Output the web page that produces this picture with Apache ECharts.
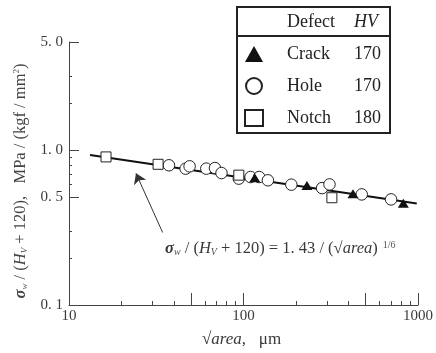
<!DOCTYPE html>
<html><head><meta charset="utf-8">
<script src="https://cdn.jsdelivr.net/npm/echarts@6/dist/echarts.min.js"></script>
<style>html,body{margin:0;padding:0;background:#fff}#c{width:436px;height:353px}</style>
</head><body><div id="c"></div>
<script>
// ---- data ----
const crackX = [116, 231, 424, 824];
const crackY = [0.665, 0.592, 0.523, 0.455];
const holeX = [37.4, 46.6, 49.1, 61.2, 68.6, 74.8, 94.0, 109.7, 123, 138, 188, 282, 311, 476, 701];
const holeY = [0.799, 0.760, 0.787, 0.760, 0.767, 0.712, 0.655, 0.671, 0.671, 0.639, 0.599, 0.569, 0.601, 0.518, 0.481];
const notchX = [16.3, 32.4, 94, 321];
const notchY = [0.905, 0.811, 0.69, 0.493];
const fitX = [13.2, 984];
const fitY = [0.93, 0.453];
const arrowX = [34.4, 24.2];
const arrowY = [0.294, 0.709];
const legendNames = ['Crack', 'Hole', 'Notch'];
const legendHV = ['170', '170', '180'];
const xMajorTicks = [10, 50, 100, 500, 1000];
const xMinorTicks = [20, 30, 40, 60, 70, 80, 90, 200, 300, 400, 600, 700, 800, 900];
const xTickLabels = [10, 100, 1000];
const yMajorTicks = [0.1, 0.5, 1, 5];
const yMinorTicks = [0.2, 0.3, 0.6, 0.7, 0.8, 0.9, 2, 3];
const yTickLabels = [0.1, 0.5, 1, 5];
const yTickText = ['0. 1', '0. 5', '1. 0', '5. 0'];

const pairs = (xs, ys) => xs.map((x, i) => [x, ys[i]]);
const SERIF = '"Liberation Serif","DejaVu Serif",serif';
const INK = '#222';
const TXT = '#3a3a3a';

const chart = echarts.init(document.getElementById('c'), null, {renderer: 'canvas'});
const hvMap = {};
legendNames.forEach((n, i) => hvMap[n] = legendHV[i]);

const yLabelFmt = v => {
  const k = yTickLabels.findIndex(t => Math.abs(t - v) / t < 1e-6);
  return k >= 0 ? yTickText[k] : '';
};
const xLabelFmt = v => String(Math.round(v));

const option = {
  animation: false,
  backgroundColor: '#fff',
  grid: {left: 69, right: 16, top: 42, bottom: 48},
  xAxis: [
    {type: 'log', min: 10, max: 1000, position: 'bottom',
     axisLine: {show: true, lineStyle: {color: '#444', width: 1}},
     axisTick: {show: true, inside: false, length: -12, customValues: xMajorTicks, lineStyle: {color: '#444'}},
     axisLabel: {show: true, customValues: xTickLabels, margin: 4, color: TXT, fontFamily: SERIF, fontSize: 15, formatter: xLabelFmt},
     splitLine: {show: false}, minorTick: {show: false}},
    {type: 'log', min: 10, max: 1000, position: 'bottom', offset: 0,
     axisLine: {show: false},
     axisTick: {show: true, inside: false, length: -4, customValues: xMinorTicks, lineStyle: {color: '#444'}},
     axisLabel: {show: false}, splitLine: {show: false}}
  ],
  yAxis: [
    {type: 'log', min: 0.1, max: 5, position: 'left',
     axisLine: {show: true, lineStyle: {color: '#444', width: 1}},
     axisTick: {show: true, inside: false, length: -10, customValues: yMajorTicks, lineStyle: {color: '#444'}},
     axisLabel: {show: true, customValues: yTickLabels, margin: 6, color: TXT, fontFamily: SERIF, fontSize: 15, formatter: yLabelFmt},
     splitLine: {show: false}},
    {type: 'log', min: 0.1, max: 5, position: 'left', offset: 0,
     axisLine: {show: false},
     axisTick: {show: true, inside: false, length: -3, customValues: yMinorTicks, lineStyle: {color: '#444'}},
     axisLabel: {show: false}, splitLine: {show: false}}
  ],
  legend: {
    show: true, orient: 'vertical', left: 239, top: 40,
    itemWidth: 18, itemHeight: 16, itemGap: 14,
    data: legendNames,
    selectedMode: false,
    formatter: n => '{s|\u2002}{n|' + n + '}{h|' + hvMap[n] + '}',
    textStyle: {
      color: '#222', fontFamily: SERIF, fontSize: 18,
      rich: {
        s: {width: 19, fontSize: 18, fontFamily: SERIF},
        n: {width: 67, fontSize: 18, fontFamily: SERIF, color: '#222'},
        h: {fontSize: 18, fontFamily: SERIF, color: '#222'}
      }
    }
  },
  series: [
    {name: 'fit', type: 'line', xAxisIndex: 0, yAxisIndex: 0, data: pairs(fitX, fitY),
     showSymbol: false, symbol: 'none', z: 1, silent: true,
     lineStyle: {color: '#111', width: 2},
     markLine: {silent: true, symbol: ['none', 'arrow'], symbolSize: 10,
       lineStyle: {color: '#333', width: 1, type: 'solid'}, label: {show: false},
       data: [[{coord: [arrowX[0], arrowY[0]]}, {coord: [arrowX[1], arrowY[1]]}]]}},
    {name: 'Hole', type: 'scatter', data: pairs(holeX, holeY), symbol: 'circle', symbolSize: 11.5, z: 3,
     itemStyle: {color: '#fff', borderColor: INK, borderWidth: 1, opacity: 1}},
    {name: 'Notch', type: 'scatter', data: pairs(notchX, notchY), symbol: 'rect', symbolSize: 10, z: 4,
     itemStyle: {color: '#fff', borderColor: INK, borderWidth: 1, opacity: 1}},
    {name: 'Crack', type: 'scatter', data: pairs(crackX, crackY), symbol: 'triangle', symbolSize: [11, 9], z: 5,
     itemStyle: {color: '#111', borderColor: '#111', borderWidth: 0, opacity: 1}}
  ],
  graphic: [
    {type: 'rect', shape: {x: 237, y: 7, width: 153, height: 126}, style: {fill: 'none', stroke: '#222', lineWidth: 2}, z: 10},
    {type: 'line', shape: {x1: 237, y1: 36, x2: 390, y2: 36}, style: {stroke: '#222', lineWidth: 2}, z: 10},
    {type: 'text', left: 287, top: 13, style: {text: 'Defect', font: '18px ' + SERIF, fill: '#222'}, z: 10},
    {type: 'text', left: 354, top: 13, style: {text: 'HV', font: 'italic 18px ' + SERIF, fill: '#222'}, z: 10},
    // equation
    {type: 'text', left: 165, top: 240, z: 10, style: {
      text: '{sg|σ}{sb|w}{n| / (}{it|H}{sb|V}{n| + 120) = 1. 43 / (√}{it|area}{n|)}{sp|1/6}',
      rich: {
        sg: {font: 'italic bold 16.5px ' + SERIF, fill: '#333'},
        sb: {font: 'italic 10px ' + SERIF, fill: '#555', padding: [6, 0, 0, 0]},
        n: {font: '16.5px ' + SERIF, fill: '#3a3a3a'},
        it: {font: 'italic 16.5px ' + SERIF, fill: '#3a3a3a'},
        sp: {font: '10px ' + SERIF, fill: '#555', padding: [0, 0, 8, 5]}
      }}},
    // x title
    {type: 'text', left: 202, top: 331, z: 10, style: {
      text: '{n|√}{it|area}{n|,   μm}',
      rich: {
        n: {font: '17px ' + SERIF, fill: '#3a3a3a'},
        it: {font: 'italic 17px ' + SERIF, fill: '#3a3a3a'}
      }}},
    // y title
    {type: 'text', x: 21, y: 181, rotation: Math.PI / 2, z: 10, style: {
      text: '{sg|σ}{sb|w}{n| / (}{it|H}{sb|V}{n| + 120),   MPa / (kgf / mm}{sp|2}{n|)}',
      align: 'center', verticalAlign: 'middle',
      rich: {
        sg: {font: 'italic bold 16.5px ' + SERIF, fill: '#444'},
        sb: {font: 'italic 9px ' + SERIF, fill: '#555', padding: [7, 0, 0, 0]},
        n: {font: '16.5px ' + SERIF, fill: '#444'},
        it: {font: 'italic 16.5px ' + SERIF, fill: '#444'},
        sp: {font: '9px ' + SERIF, fill: '#555', padding: [0, 0, 8, 0]}
      }}}
  ]
};
chart.setOption(option);
</script>
</body></html>
